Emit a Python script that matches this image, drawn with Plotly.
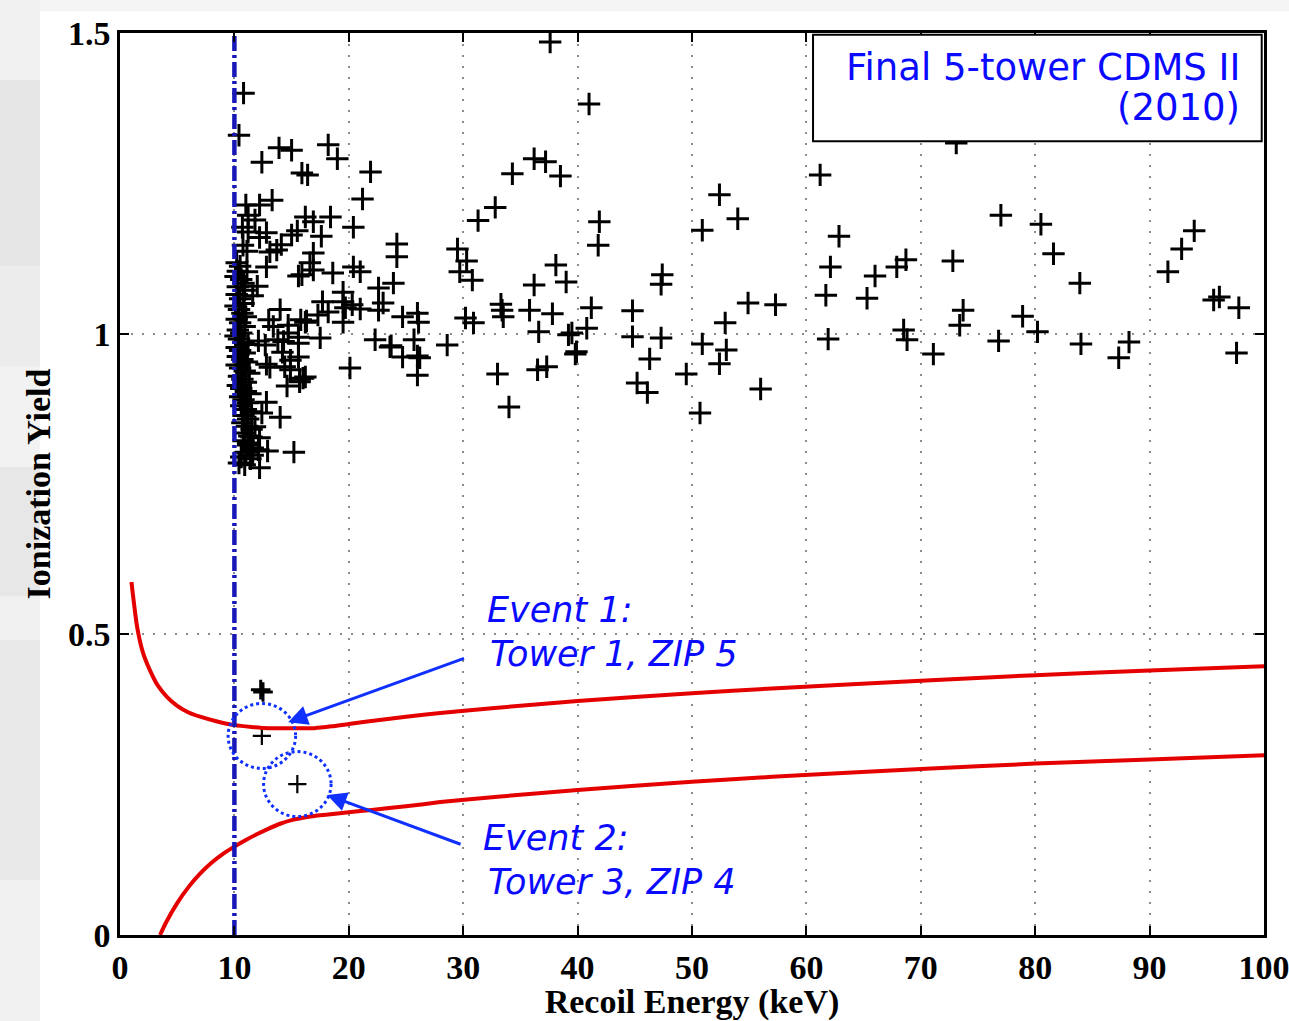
import plotly.graph_objects as go

# ---- electron-recoil band events (recoil energy keV, ionization yield) ----
er_events = [
    (37.6, 1.485), (10.8, 1.400), (10.4, 1.330), (41.0, 1.382), (13.9, 1.309),
    (15.0, 1.305), (18.2, 1.314), (19.0, 1.291), (12.4, 1.285), (15.9, 1.267),
    (16.4, 1.264), (21.9, 1.269), (13.3, 1.222), (12.2, 1.214), (11.0, 1.214),
    (21.2, 1.224), (34.3, 1.266), (36.2, 1.291), (37.2, 1.286), (38.5, 1.262),
    (32.8, 1.210), (31.3, 1.188), (41.9, 1.186), (41.8, 1.147), (52.4, 1.231),
    (50.9, 1.172), (54.0, 1.191), (61.2, 1.264), (62.85, 1.162), (62.1, 1.111),
    (61.7, 1.064), (61.9, 0.991), (66.0, 1.096), (65.3, 1.059), (67.9, 1.111),
    (68.7, 1.123), (72.8, 1.121), (73.1, 1.317), (73.7, 1.039), (73.4, 1.014),
    (71.1, 0.966), (68.5, 1.006), (68.8, 0.990), (54.9, 1.051), (57.3, 1.048),
    (52.9, 1.018), (50.9, 0.983), (53.0, 0.973), (52.4, 0.950), (49.5, 0.933),
    (56.0, 0.908), (50.7, 0.868), (47.4, 1.098), (47.3, 1.082), (47.3, 0.993),
    (46.3, 0.958), (45.2, 0.918), (46.1, 0.902), (44.8, 1.038), (44.8, 0.995),
    (41.2, 1.043), (40.8, 1.009), (39.5, 1.001), (39.2, 0.998), (39.8, 0.966),
    (39.9, 0.970), (36.2, 1.081), (38.1, 1.114), (39.0, 1.086), (35.8, 1.039),
    (37.8, 1.033), (36.6, 1.003), (36.5, 0.940), (37.3, 0.945), (33.3, 1.049),
    (33.4, 1.039), (33.5, 1.028), (33.0, 0.933), (34.0, 0.878), (29.5, 1.141),
    (30.3, 1.121), (29.7, 1.103), (30.8, 1.089), (30.2, 1.026), (30.9, 1.018),
    (28.6, 0.981), (24.2, 1.149), (24.2, 1.128), (23.9, 1.084), (23.0, 1.051),
    (24.7, 1.028), (26.0, 1.034), (26.1, 1.019), (23.7, 0.980), (24.7, 0.961),
    (25.7, 0.990), (26.0, 0.963), (26.2, 0.960), (26.0, 0.931), (77.0, 1.197),
    (80.5, 1.182), (81.6, 1.133), (83.9, 1.084), (78.9, 1.029), (80.2, 1.003),
    (76.8, 0.988), (84.0, 0.983), (88.2, 0.986), (87.3, 0.960), (91.6, 1.103),
    (92.8, 1.141), (93.9, 1.171), (95.6, 1.056), (96.1, 1.061), (97.8, 1.043),
    (97.6, 0.968),
    # 15-23 keV
    (20.4, 1.177), (18.4, 1.194), (16.2, 1.194), (16.9, 1.186), (17.6, 1.162),
    (16.9, 1.134), (16.6, 1.118), (16.9, 1.106), (15.9, 1.098), (18.6, 1.101),
    (20.4, 1.111), (21.0, 1.103), (22.6, 1.076), (19.5, 1.069), (19.5, 1.053),
    (17.7, 1.053), (17.3, 1.031), (18.2, 1.036), (19.7, 1.043), (20.3, 1.048),
    (21.0, 1.041), (22.6, 1.039), (19.5, 1.019), (16.2, 1.019), (17.5, 0.993),
    (22.3, 0.990), (23.6, 0.978), (20.1, 0.943), (16.0, 0.926), (15.7, 0.920),
    # 10-17 keV
    (11.8, 1.189), (11.2, 1.197), (10.7, 1.177), (11.2, 1.169), (12.2, 1.160),
    (12.8, 1.168), (15.0, 1.164), (15.5, 1.171), (14.1, 1.148), (13.1, 1.136),
    (13.7, 1.139), (11.1, 1.137), (10.75, 1.147), (12.8, 1.111), (10.3, 1.104),
    (11.1, 1.103), (15.6, 1.096), (12.0, 1.079), (10.8, 1.084), (11.6, 1.063),
    (14.0, 1.040), (13.0, 1.023), (13.4, 1.012), (14.7, 1.014), (15.8, 1.023),
    (16.3, 1.021), (12.1, 0.988), (12.7, 0.981), (13.8, 0.990), (14.3, 0.987),
    (14.7, 1.001), (15.6, 0.994), (15.6, 0.984), (14.2, 0.969), (15.6, 0.961),
    (14.9, 0.956), (12.8, 0.949), (13.1, 0.944), (14.4, 0.945), (14.9, 0.940),
    (15.7, 0.924), (16.2, 0.928), (14.6, 0.913), (12.8, 0.886), (14.0, 0.861),
    (12.4, 0.868), (11.8, 0.845), (11.5, 0.828), (12.2, 0.827), (12.9, 0.805),
    (12.1, 0.807), (15.2, 0.803), (10.9, 0.782), (12.2, 0.777), (11.2, 0.818),
    (11.6, 0.798),
    # dense band just above threshold
    (10.2, 1.118), (10.5, 1.112), (10.1, 1.095), (10.6, 1.090), (10.3, 1.078),
    (10.9, 1.072), (10.2, 1.065), (10.5, 1.058), (10.8, 1.050), (10.1, 1.046),
    (10.4, 1.040), (10.7, 1.034), (11.0, 1.028), (10.2, 1.024), (10.5, 1.018),
    (10.9, 1.012), (10.3, 1.006), (10.6, 1.001), (10.1, 0.996), (10.4, 0.991),
    (10.8, 0.986), (11.2, 0.982), (10.2, 0.977), (10.5, 0.972), (10.9, 0.968),
    (10.3, 0.962), (10.7, 0.957), (11.1, 0.953), (10.2, 0.948), (10.5, 0.943),
    (10.9, 0.938), (11.3, 0.934), (10.4, 0.929), (10.7, 0.924), (11.0, 0.919),
    (10.3, 0.914), (10.6, 0.909), (11.0, 0.904), (11.4, 0.900), (10.5, 0.895),
    (10.8, 0.890), (11.2, 0.885), (10.6, 0.880), (11.0, 0.874), (11.5, 0.870),
    (10.8, 0.864), (11.2, 0.858), (10.7, 0.852), (11.1, 0.846), (11.5, 0.841),
    (10.9, 0.835), (11.3, 0.830), (10.8, 0.822), (11.2, 0.815), (11.6, 0.810),
    (11.0, 0.803), (10.6, 0.795), (11.4, 0.792), (10.4, 0.785),
]
er_energy = [e for e, _ in er_events]
er_yield = [y for _, y in er_events]

# ---- low-yield events below the electron band ----
low_energy = [12.3, 12.5]
low_yield = [0.408, 0.404]

# ---- WIMP candidate events ----
candidate_energy = [12.4, 15.5]
candidate_yield = [0.331, 0.251]
candidate_labels = [("Event 1:", "Tower 1, ZIP 5"), ("Event 2:", "Tower 3, ZIP 4")]

# ---- nuclear-recoil acceptance band edges ----
nr_upper_energy = [1.0, 1.5, 2.0, 2.6, 3.3, 4.1, 5.0, 6.0, 7.0, 8.5, 10.0, 11.5, 13.0,
                   15.0, 17.0, 18.5, 20.0, 22.5, 25.0, 28.0, 33.0, 40.0, 50.0, 57.0,
                   70.0, 80.0, 90.0, 100.0]
nr_upper_yield = [0.587, 0.512, 0.470, 0.441, 0.415, 0.396, 0.381, 0.370, 0.363, 0.355,
                  0.349, 0.346, 0.344, 0.344, 0.344, 0.347, 0.351, 0.357, 0.363, 0.369,
                  0.378, 0.389, 0.402, 0.410, 0.423, 0.432, 0.440, 0.447]
nr_lower_energy = [3.5, 4.0, 5.0, 6.0, 7.0, 8.0, 9.0, 10.0, 11.0, 12.0, 13.0, 14.0, 15.0,
                   16.0, 17.0, 18.0, 20.0, 22.0, 25.0, 28.0, 33.0, 40.0, 50.0, 57.0,
                   70.0, 80.0, 90.0, 100.0]
nr_lower_yield = [0.000, 0.020, 0.053, 0.080, 0.102, 0.120, 0.135, 0.147, 0.158, 0.168,
                  0.177, 0.185, 0.191, 0.195, 0.198, 0.200, 0.204, 0.208, 0.214, 0.221,
                  0.230, 0.241, 0.255, 0.263, 0.276, 0.285, 0.292, 0.299]

threshold_kev = 10.0

x_ticks = [0, 10, 20, 30, 40, 50, 60, 70, 80, 90, 100]
y_ticks = [0, 0.5, 1, 1.5]
y_tick_text = ["0", "0.5", "1", "1.5"]

BLUE = "#1030ff"
TEXT_BLUE = "#0a0aff"
SERIF = "Liberation Serif, Times New Roman, serif"
HAND = "Comic Sans MS, DejaVu Sans, sans-serif"

fig = go.Figure()

plus = dict(symbol="cross-thin", size=16, color="black",
            line=dict(color="black", width=3))

fig.add_trace(go.Scatter(x=er_energy, y=er_yield, mode="markers", marker=plus,
                         hoverinfo="x+y"))
fig.add_trace(go.Scatter(x=low_energy, y=low_yield, mode="markers",
                         marker=dict(symbol="cross-thin", size=14, color="black",
                                     line=dict(color="black", width=3))))
fig.add_trace(go.Scatter(x=candidate_energy, y=candidate_yield, mode="markers",
                         marker=dict(symbol="cross-thin", size=13, color="black",
                                     line=dict(color="black", width=2.2))))

for ex, ey in ((nr_upper_energy, nr_upper_yield), (nr_lower_energy, nr_lower_yield)):
    fig.add_trace(go.Scatter(x=ex, y=ey, mode="lines",
                             line=dict(color="#e50000", width=4, shape="spline",
                                       smoothing=0.6),
                             hoverinfo="skip"))

# analysis threshold
fig.add_trace(go.Scatter(x=[threshold_kev, threshold_kev], y=[0, 1.5], mode="lines",
                         line=dict(color="#1818b8", width=4.5, dash="15px,4px,3px,4px"),
                         hoverinfo="skip"))

# dotted circles around the candidates
rx, ry = 2.95, 0.054
for ce, cy in zip(candidate_energy, candidate_yield):
    fig.add_shape(type="circle", xref="x", yref="y",
                  x0=ce - rx, x1=ce + rx, y0=cy - ry, y1=cy + ry,
                  line=dict(color=BLUE, width=3, dash="dot"), layer="above")

# arrows pointing at the candidates
arrow_tails = [(30.2, 0.461), (29.9, 0.150)]
arrow_heads = [(14.7, 0.354), (18.1, 0.233)]
for (tx, ty), (hx, hy) in zip(arrow_tails, arrow_heads):
    fig.add_annotation(x=hx, y=hy, ax=tx, ay=ty, xref="x", yref="y",
                       axref="x", ayref="y", text="", showarrow=True,
                       arrowhead=2, arrowsize=1.3, arrowwidth=3, arrowcolor=BLUE)

# candidate labels
label_pos = [((0.319, 0.360), (0.322, 0.3115)), ((0.3156, 0.1075), (0.320, 0.0588))]
for (l1, l2), (p1, p2) in zip(candidate_labels, label_pos):
    for txt, (px, py) in ((l1, p1), (l2, p2)):
        fig.add_annotation(x=px, y=py, xref="paper", yref="paper", xanchor="left",
                           yanchor="middle", text="<i>" + txt + "</i>", showarrow=False,
                           font=dict(family=HAND, size=35, color=TEXT_BLUE))

# title box
fig.add_shape(type="rect", xref="paper", yref="paper", x0=0.6058, x1=0.998,
              y0=0.880, y1=0.998, line=dict(color="black", width=2),
              fillcolor="white", layer="above")
fig.add_annotation(x=0.981, y=0.962, xref="paper", yref="paper", xanchor="right",
                   yanchor="middle", text="Final 5-tower CDMS II", showarrow=False,
                   font=dict(family=HAND, size=37, color=TEXT_BLUE))
fig.add_annotation(x=0.981, y=0.917, xref="paper", yref="paper", xanchor="right",
                   yanchor="middle", text="(2010)", showarrow=False,
                   font=dict(family=HAND, size=37, color=TEXT_BLUE))

# faint grey slide background showing along the left edge and the top
edge_bands = [(1.037, 0.948, "#f0f0f0"), (0.948, 0.741, "#e6e6e6"),
              (0.741, 0.630, "#ececec"), (0.630, 0.519, "#f2f2f2"),
              (0.519, 0.375, "#e7e7e7"), (0.375, 0.327, "#f0f0f0"),
              (0.327, 0.061, "#e9e9e9"), (0.061, -0.096, "#f0f0f0")]
for y_top, y_bot, col in edge_bands:
    fig.add_shape(type="rect", xref="paper", yref="paper", x0=-0.105, x1=-0.070,
                  y0=y_bot, y1=y_top, line=dict(width=0), fillcolor=col, layer="below")
fig.add_shape(type="rect", xref="paper", yref="paper", x0=-0.070, x1=1.022,
              y0=1.024, y1=1.037, line=dict(width=0), fillcolor="#f5f5f5",
              layer="below")

axis_common = dict(
    showline=True, linecolor="black", linewidth=2.5, mirror="ticks",
    ticks="inside", ticklen=9, tickwidth=2, tickcolor="black",
    showgrid=True, gridcolor="#8c8c8c", gridwidth=1.5, griddash="2px,9px",
    zeroline=False, automargin=False, ticklabeloverflow="allow",
    tickfont=dict(family=SERIF, size=34, color="black", weight="bold"),
)

fig.update_layout(
    width=1289, height=1021,
    margin=dict(l=120, r=25, t=33, b=86),
    paper_bgcolor="white", plot_bgcolor="white",
    showlegend=False,
    xaxis=dict(range=[0, 100], tickvals=x_ticks, ticklabelstandoff=0,
               title=dict(text="Recoil Energy (keV)", standoff=4,
                          font=dict(family=SERIF, size=34, color="black", weight="bold")),
               **axis_common),
    yaxis=dict(range=[0, 1.5], tickvals=y_ticks, ticktext=y_tick_text,
               ticklabelstandoff=0,
               title=dict(text="Ionization Yield", standoff=8,
                          font=dict(family=SERIF, size=34, color="black", weight="bold")),
               **axis_common),
)

fig.write_html("out.html")
